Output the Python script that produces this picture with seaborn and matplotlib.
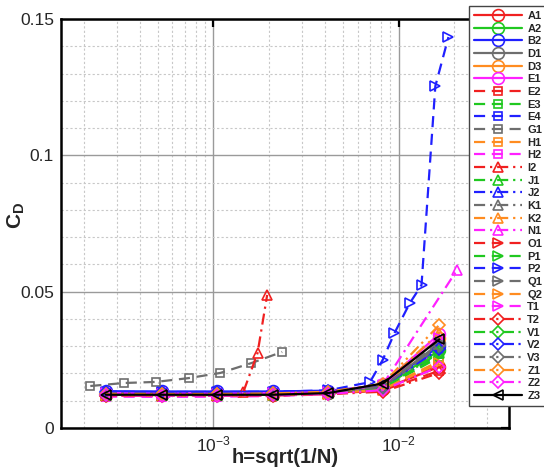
import numpy as np
import pandas as pd
import matplotlib
matplotlib.use("Agg")
import matplotlib.pyplot as plt
import matplotlib.ticker as mticker
import seaborn as sns

# ---------------- data ----------------
h_main = [2.62e-4, 5.3e-4, 1.05e-3, 2.1e-3, 4.15e-3, 8.2e-3, 1.66e-2]

cd_A1 = [0.0122, 0.0121, 0.0121, 0.0122, 0.0127, 0.0142, 0.0225]
cd_A2 = [0.0124, 0.0123, 0.0123, 0.0124, 0.0129, 0.0150, 0.0285]
cd_B2 = [0.0135, 0.0134, 0.0134, 0.0134, 0.0137, 0.0155, 0.0300]
cd_D1 = [0.0123, 0.0122, 0.0122, 0.0123, 0.0128, 0.0152, 0.0310]
cd_D3 = [0.0125, 0.0124, 0.0124, 0.0125, 0.0131, 0.0155, 0.0330]
cd_E1 = [0.0128, 0.0127, 0.0127, 0.0128, 0.0133, 0.0160, 0.0345]
cd_E2 = [0.0118, 0.0118, 0.0119, 0.0120, 0.0125, 0.0138, 0.0210]
cd_E3 = [0.0121, 0.0120, 0.0120, 0.0121, 0.0126, 0.0146, 0.0260]
cd_E4 = [0.0130, 0.0129, 0.0129, 0.0130, 0.0134, 0.0150, 0.0270]
h_G1 = [2.16e-4, 3.28e-4, 4.88e-4, 7.34e-4, 1.09e-3, 1.6e-3, 2.35e-3]
cd_G1 = [0.0154, 0.0165, 0.0169, 0.0183, 0.0202, 0.0238, 0.0279]
cd_H1 = [0.0120, 0.0119, 0.0119, 0.0121, 0.0126, 0.0144, 0.0245]
cd_H2 = [0.0115, 0.0114, 0.0115, 0.0117, 0.0124, 0.0148, 0.0290]
h_I2 = [2.62e-4, 5.3e-4, 1.05e-3, 1.45e-3, 1.73e-3, 1.95e-3]
cd_I2 = [0.0121, 0.0121, 0.0122, 0.0132, 0.0275, 0.0488]
cd_J1 = [0.0122, 0.0121, 0.0121, 0.0122, 0.0127, 0.0147, 0.0275]
cd_J2 = [0.0131, 0.0130, 0.0130, 0.0131, 0.0135, 0.0153, 0.0295]
cd_K1 = [0.0124, 0.0123, 0.0123, 0.0124, 0.0129, 0.0151, 0.0300]
cd_K2 = [0.0126, 0.0125, 0.0125, 0.0126, 0.0132, 0.0157, 0.0350]
h_N1 = [2.62e-4, 5.3e-4, 1.05e-3, 2.1e-3, 4.15e-3, 8.2e-3, 2.07e-2]
cd_N1 = [0.0126, 0.0125, 0.0125, 0.0126, 0.0131, 0.0158, 0.0580]
cd_O1 = [0.0119, 0.0119, 0.0119, 0.0120, 0.0125, 0.0140, 0.0235]
cd_P1 = [0.0122, 0.0121, 0.0121, 0.0122, 0.0127, 0.0146, 0.0265]
h_P2 = [2.62e-4, 5.3e-4, 1.05e-3, 2.1e-3, 4.15e-3, 7.0e-3, 8.2e-3,
        9.5e-3, 1.15e-2, 1.33e-2, 1.58e-2, 1.86e-2]
cd_P2 = [0.0133, 0.0132, 0.0132, 0.0133, 0.0138, 0.0168, 0.0249,
         0.0348, 0.0458, 0.0524, 0.1254, 0.1434]
cd_Q1 = [0.0124, 0.0123, 0.0123, 0.0124, 0.0129, 0.0152, 0.0315]
cd_Q2 = [0.0121, 0.0120, 0.0120, 0.0121, 0.0126, 0.0141, 0.0238]
cd_T1 = [0.0127, 0.0126, 0.0126, 0.0127, 0.0132, 0.0158, 0.0330]
cd_T2 = [0.0118, 0.0118, 0.0118, 0.0119, 0.0124, 0.0133, 0.0202]
cd_V1 = [0.0122, 0.0121, 0.0121, 0.0122, 0.0127, 0.0148, 0.0280]
cd_V2 = [0.0132, 0.0131, 0.0131, 0.0132, 0.0136, 0.0152, 0.0290]
cd_V3 = [0.0124, 0.0123, 0.0123, 0.0124, 0.0129, 0.0151, 0.0305]
cd_Z1 = [0.0126, 0.0125, 0.0125, 0.0127, 0.0133, 0.0162, 0.0378]
cd_Z2 = [0.0120, 0.0119, 0.0119, 0.0120, 0.0125, 0.0139, 0.0225]
cd_Z3 = [0.0122, 0.0122, 0.0122, 0.0122, 0.0128, 0.0163, 0.0325]

labels = ["A1", "A2", "B2", "D1", "D3", "E1",
          "E2", "E3", "E4", "G1", "H1", "H2",
          "I2", "J1", "J2", "K1", "K2", "N1",
          "O1", "P1", "P2", "Q1", "Q2", "T1",
          "T2", "V1", "V2", "V3", "Z1", "Z2", "Z3"]
h_values = [h_main] * 9 + [h_G1] + [h_main] * 2 + [h_I2] + [h_main] * 4 + [h_N1] \
    + [h_main] * 2 + [h_P2] + [h_main] * 3 + [h_main] * 7
cd_values = [cd_A1, cd_A2, cd_B2, cd_D1, cd_D3, cd_E1,
             cd_E2, cd_E3, cd_E4, cd_G1, cd_H1, cd_H2,
             cd_I2, cd_J1, cd_J2, cd_K1, cd_K2, cd_N1,
             cd_O1, cd_P1, cd_P2, cd_Q1, cd_Q2, cd_T1,
             cd_T2, cd_V1, cd_V2, cd_V3, cd_Z1, cd_Z2, cd_Z3]

# ---------------- styles ----------------
base_colors = ["#f02020", "#20c820", "#2020ff", "#6e6e6e", "#ff8c20", "#ff20ff"]
group_markers = ["o", "s", "^", ">", "D"]
group_ms = [8.5, 6, 7, 7, 6.5]
group_ls = ["-", (0, (5, 3)), (0, (5, 2.2, 1, 2.2)), (0, (5, 3)),
            (0, (5, 2, 1, 2, 1, 2))]

sns.set_theme(style="white")
plt.rcParams["font.family"] = ["Liberation Sans", "DejaVu Sans"]
plt.rcParams["mathtext.fontset"] = "custom"
plt.rcParams["mathtext.rm"] = "Liberation Sans"
plt.rcParams["mathtext.it"] = "Liberation Sans:italic"
plt.rcParams["mathtext.bf"] = "Liberation Sans:bold"

fig = plt.figure(figsize=(5.44, 4.72), dpi=100)
ax = fig.add_axes([61 / 544, 44 / 472, 448 / 544, 409 / 472])

for i, (lab, hx, cy) in enumerate(zip(labels, h_values, cd_values)):
    if i < 30:
        g, c = divmod(i, 6)
        col = base_colors[c]
        mk, ms, ls = group_markers[g], group_ms[g], group_ls[g]
    else:
        col, mk, ms, ls = "black", "<", 7, "-"
    df = pd.DataFrame({"h": hx, "cd": cy})
    sns.lineplot(data=df, x="h", y="cd", ax=ax, color=col, marker=mk,
                 markersize=ms, markerfacecolor="none", markeredgecolor=col,
                 markeredgewidth=1.2, linewidth=1.6, label=lab, sort=False,
                 estimator=None, legend=False)
    ax.lines[-1].set_linestyle(ls)

ax.set_xscale("log")
ax.set_xlim(1.5e-4, 3.95e-2)
ax.set_ylim(0, 0.15)

ax.xaxis.set_major_locator(mticker.FixedLocator([1e-3, 1e-2]))
ax.xaxis.set_major_formatter(mticker.FixedFormatter([r"$10^{-3}$", r"$10^{-2}$"]))
ax.xaxis.set_minor_locator(mticker.LogLocator(base=10, subs=np.arange(2, 10)))
ax.xaxis.set_minor_formatter(mticker.NullFormatter())
ax.yaxis.set_major_locator(mticker.FixedLocator([0, 0.05, 0.1, 0.15]))
ax.yaxis.set_major_formatter(mticker.FixedFormatter(["0", "0.05", "0.1", "0.15"]))
ax.yaxis.set_minor_locator(mticker.MultipleLocator(0.01))

ax.grid(which="major", color="#9a9a9a", linewidth=1.0, linestyle="-")
ax.grid(which="minor", color="#c8c8c8", linewidth=0.8, linestyle=(0, (2, 2)))
ax.set_axisbelow(True)

ax.tick_params(which="major", direction="in", length=6, width=1.6,
               top=True, right=True, labelsize=12.5, color="black", pad=5)
ax.tick_params(which="minor", length=0)
for sp in ax.spines.values():
    sp.set_color("black")
    sp.set_linewidth(1.8)

ax.set_xlabel("h=sqrt(1/N)", fontsize=14.5, fontweight="bold")
ax.xaxis.set_label_coords(0.5, -0.05)
ax.set_ylabel(r"$\mathbf{C_D}$", fontsize=15)
ax.yaxis.set_label_coords(-0.075, 0.52)

handles, labs = ax.get_legend_handles_labels()
leg = fig.legend(handles, labs, loc="upper left",
                 bbox_to_anchor=(469 / 544, 1 - 6 / 472), borderaxespad=0,
                 frameon=True, fancybox=False, edgecolor="#444444", framealpha=1,
                 prop={"family": "Liberation Sans", "weight": "bold", "size": 8},
                 handlelength=4.3, handletextpad=0.5, labelspacing=0.24,
                 borderpad=0.45)
leg.get_frame().set_linewidth(1.0)

fig.savefig("out.png", dpi=100)
